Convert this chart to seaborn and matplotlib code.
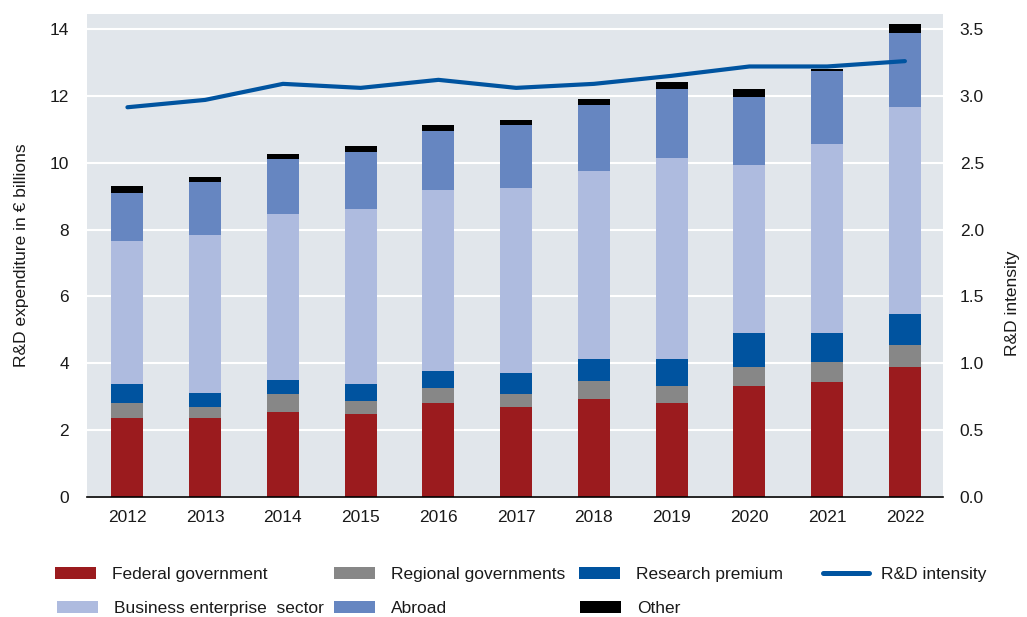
import numpy as np
import pandas as pd
import matplotlib
matplotlib.use("Agg")
import matplotlib.pyplot as plt
import seaborn as sns
from matplotlib.patches import Patch
from matplotlib.lines import Line2D

years = ["2012", "2013", "2014", "2015", "2016", "2017", "2018", "2019", "2020", "2021", "2022"]
federal = [2.37, 2.37, 2.55, 2.49, 2.81, 2.68, 2.94, 2.81, 3.32, 3.45, 3.90]
regional = [0.45, 0.32, 0.52, 0.38, 0.45, 0.39, 0.52, 0.51, 0.58, 0.58, 0.64]
premium = [0.56, 0.43, 0.44, 0.51, 0.51, 0.63, 0.68, 0.82, 1.01, 0.88, 0.93]
business = [4.28, 4.72, 4.96, 5.23, 5.40, 5.53, 5.60, 5.99, 5.03, 5.66, 6.19]
abroad = [1.44, 1.59, 1.65, 1.71, 1.78, 1.91, 1.98, 2.09, 2.03, 2.17, 2.22]
other = [0.20, 0.13, 0.14, 0.19, 0.19, 0.13, 0.19, 0.20, 0.25, 0.06, 0.26]
intensity = [2.915, 2.97, 3.09, 3.06, 3.12, 3.06, 3.09, 3.15, 3.22, 3.22, 3.26]

series = [
    ("Federal government", federal, "#9b1b1e"),
    ("Regional governments", regional, "#878787"),
    ("Research premium", premium, "#00539f"),
    ("Business enterprise  sector", business, "#aebbdf"),
    ("Abroad", abroad, "#6686c1"),
    ("Other", other, "#000000"),
]
line_color = "#0054a0"

sns.set_theme(style="white")
plt.rcParams["font.family"] = ["Liberation Sans", "DejaVu Sans"]
plt.rcParams["text.color"] = "#1a1a1a"
FS = 12.5

W, H = 1027, 617
fig = plt.figure(figsize=(W / 100, H / 100), dpi=100)
ax = fig.add_axes([87 / W, 1 - 497 / H, (943 - 87) / W, (497 - 14) / H])
ax.set_facecolor("#e1e6eb")

# stacked bars: draw cumulative totals from the top layer down
cum = np.cumsum(np.array([s[1] for s in series]), axis=0)
for i in range(len(series) - 1, -1, -1):
    df = pd.DataFrame({"year": years, "value": cum[i]})
    sns.barplot(data=df, x="year", y="value", color=series[i][2], width=0.41,
                saturation=1, ax=ax, zorder=3, linewidth=0)

ax.set_xlim(-0.52, 10.49)
ax.set_ylim(0, 14.45)
ax.set_yticks(range(0, 15, 2))
ax.grid(axis="y", color="white", linewidth=1.5, zorder=0)
ax.set_axisbelow(True)
for side in ["top", "right", "left"]:
    ax.spines[side].set_visible(False)
ax.spines["bottom"].set_color("black")
ax.spines["bottom"].set_linewidth(1.2)
ax.spines["bottom"].set_zorder(5)
ax.tick_params(axis="y", length=0, labelsize=FS, pad=13, labelcolor="#1a1a1a")
ax.tick_params(axis="x", length=0, labelsize=FS, pad=9.5, labelcolor="#1a1a1a")
ax.set_xlabel("")
ax.set_ylabel("")

ax2 = ax.twinx()
sns.lineplot(x=np.arange(len(years)), y=intensity, color=line_color, linewidth=3.0,
             ax=ax2, zorder=6, solid_capstyle="round")
ax2.set_ylim(0, 14.45 / 4)
ticks2 = np.arange(0, 3.6, 0.5)
ax2.set_yticks(ticks2)
ax2.set_yticklabels([f"{v:.1f}" for v in ticks2])
for side in ax2.spines:
    ax2.spines[side].set_visible(False)
ax2.tick_params(axis="y", length=0, labelsize=FS, pad=12, labelcolor="#1a1a1a")
ax2.set_ylabel("")
ax2.grid(False)

fig.text(22 / W, 1 - 255 / H, "R&D expenditure in € billions", rotation=90,
         ha="center", va="center", fontsize=FS)
fig.text(1012 / W, 1 - 303 / H, "R&D intensity", rotation=90,
         ha="center", va="center", fontsize=FS)

# legend entries placed one by one (row-major like the original)
px = FS * 100 / 72
entries = [
    ("Federal government", 55, 574.5),
    ("Regional governments", 334, 574.5),
    ("Research premium", 579, 574.5),
    ("Business enterprise  sector", 57, 608.5),
    ("Abroad", 334, 608.5),
    ("Other", 580, 608.5),
]
colors = {name: c for name, _, c in series}
for name, x0, y0 in entries:
    fig.legend([Patch(facecolor=colors[name], edgecolor="none")], [name],
               loc="center left", bbox_to_anchor=(x0 / W, 1 - y0 / H),
               frameon=False, fontsize=FS, borderpad=0, borderaxespad=0,
               handlelength=41 / px, handleheight=11 / px, handletextpad=16 / px)
fig.legend([Line2D([0], [0], color=line_color, linewidth=3.6, solid_capstyle="round")],
           ["R&D intensity"], loc="center left", bbox_to_anchor=(823 / W, 1 - 574.5 / H),
           frameon=False, fontsize=FS, borderpad=0, borderaxespad=0,
           handlelength=46 / px, handletextpad=12 / px)

fig.savefig("out.png", dpi=100)
